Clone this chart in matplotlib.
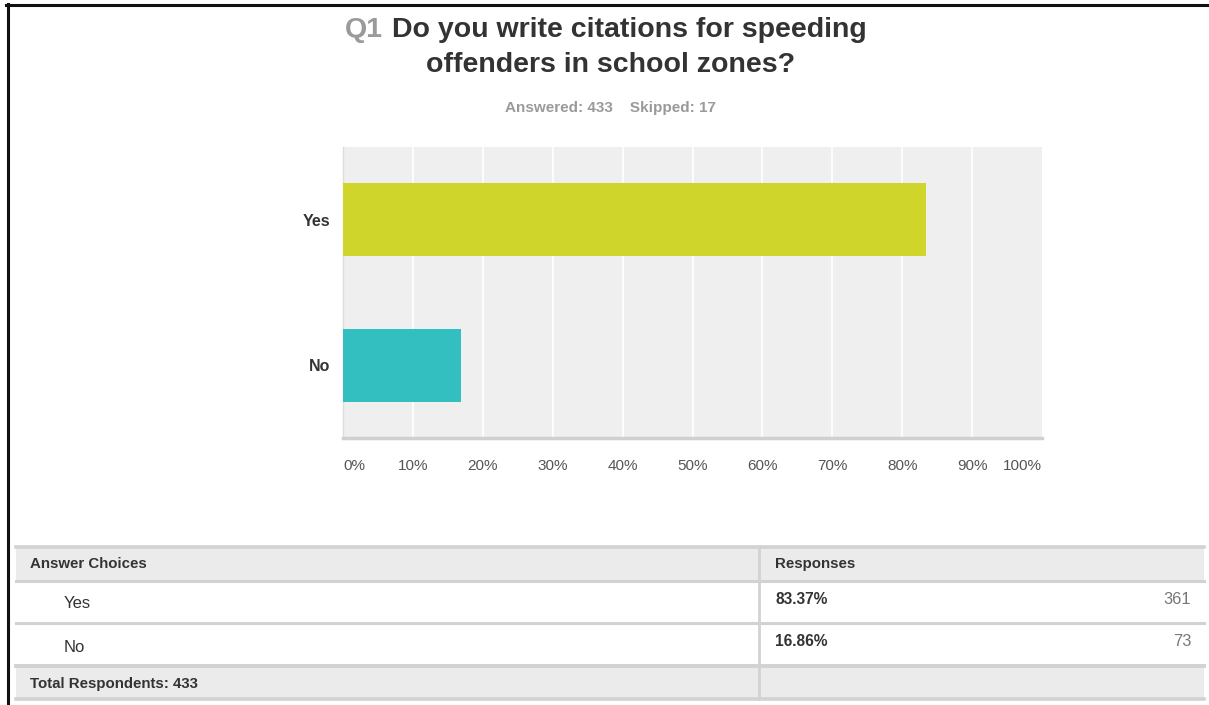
import matplotlib
matplotlib.use("Agg")
import matplotlib.pyplot as plt
from matplotlib.patches import Rectangle
from matplotlib.lines import Line2D
from matplotlib.transforms import blended_transform_factory

plt.rcParams['font.family'] = ['Liberation Sans', 'DejaVu Sans']

# Survey data
question_no = "Q1"
question_lines = ["Do you write citations for speeding", "offenders in school zones?"]
answered = 433
skipped = 17
choices = ["Yes", "No"]
percents = [83.37, 16.86]
counts = [361, 73]
bar_colors = ["#cfd52a", "#33bec0"]
tick_values = [0, 10, 20, 30, 40, 50, 60, 70, 80, 90, 100]
tick_labels = ["0%", "10%", "20%", "30%", "40%", "50%", "60%", "70%", "80%", "90%", "100%"]

W, H = 1209, 705
fig = plt.figure(figsize=(W / 100, H / 100), dpi=100)
fig.patch.set_facecolor("white")


def fx(px):
    return px / W


def fy(py):
    return 1 - py / H


# Page frame
fig.add_artist(Line2D([fx(6), fx(1209)], [fy(4.5), fy(4.5)], color="#111111", lw=2.2))
fig.add_artist(Line2D([fx(7.5), fx(7.5)], [fy(4), fy(705)], color="#111111", lw=2.2))

# Title
title_size = 20.5
fig.text(fx(345), fy(30), question_no, color="#9a9a9a", fontsize=title_size,
         fontweight="bold", ha="left", va="center")
fig.text(fx(392), fy(30), question_lines[0], color="#333333", fontsize=title_size,
         fontweight="bold", ha="left", va="center")
fig.text(fx(611), fy(65), question_lines[1], color="#333333", fontsize=title_size,
         fontweight="bold", ha="center", va="center")
fig.text(fx(610), fy(108), f"Answered: {answered}    Skipped: {skipped}",
         color="#9a9a9a", fontsize=11, fontweight="bold", ha="center", va="center")

# Bar chart
ax = fig.add_axes([fx(343), fy(438), fx(1042) - fx(343), (438 - 147) / H])
ax.set_facecolor("#efefef")
ypos = list(range(len(choices)))[::-1]
ax.barh(ypos, percents, height=0.5, color=bar_colors, zorder=3)
ax.set_xlim(0, 100)
ax.set_ylim(-0.5, len(choices) - 0.5)
for t in tick_values[1:-1]:
    ax.axvline(t, color="white", lw=1.2, zorder=1)
ax.set_yticks(ypos)
ax.set_yticklabels(choices, fontsize=11.5, fontweight="bold", color="#333333")
ax.tick_params(axis="y", length=0, pad=9)
ax.set_xticks([])
for s in ["top", "right"]:
    ax.spines[s].set_visible(False)
ax.spines["left"].set_color("#dddddd")
ax.spines["left"].set_linewidth(1)
ax.spines["bottom"].set_color("#d0d0d0")
ax.spines["bottom"].set_linewidth(2.5)

# Percentage labels under the axis; the end labels stay inside the plot width
label_tf = blended_transform_factory(ax.transData, fig.transFigure)
for v, lab in zip(tick_values, tick_labels):
    ha = "center"
    if v == tick_values[0]:
        ha = "left"
    elif v == tick_values[-1]:
        ha = "right"
    ax.text(v, fy(466), lab, transform=label_tf, ha=ha, va="center",
            fontsize=11, color="#555555", clip_on=False)

# Results table
tx0, tx1, tsplit = 16, 1204, 759
rows = [(546, 581), (581, 623), (623, 665), (665, 699)]
fills = ["#ebebeb", "white", "white", "#ebebeb"]
for (r0, r1), fc in zip(rows, fills):
    fig.add_artist(Rectangle((fx(tx0), fy(r1)), fx(tx1) - fx(tx0), (r1 - r0) / H,
                             facecolor=fc, edgecolor="none", transform=fig.transFigure))
for yline, lw in [(546.5, 2.6), (581, 2.2), (623, 2.2), (665.5, 2.8), (698.5, 2.6)]:
    fig.add_artist(Line2D([fx(tx0), fx(tx1)], [fy(yline), fy(yline)], color="#d2d2d2", lw=lw))
fig.add_artist(Line2D([fx(tsplit), fx(tsplit)], [fy(546), fy(699)], color="#d2d2d2", lw=2.0))

fig.text(fx(30), fy(564), "Answer Choices", fontsize=10.8, fontweight="bold",
         color="#333333", ha="left", va="center")
fig.text(fx(775), fy(564), "Responses", fontsize=10.8, fontweight="bold",
         color="#333333", ha="left", va="center")
row_y = [(604, 600), (647, 642)]
for name, pct, cnt, (ny, py) in zip(choices, percents, counts, row_y):
    fig.text(fx(64), fy(ny), name, fontsize=12, color="#333333", ha="left", va="center")
    fig.text(fx(775), fy(py), f"{pct:.2f}%", fontsize=11.2, fontweight="bold",
             color="#333333", ha="left", va="center")
    fig.text(fx(1191), fy(py - 1), f"{cnt}", fontsize=11.8, color="#777777",
             ha="right", va="center")
fig.text(fx(30), fy(684), f"Total Respondents: {answered}", fontsize=10.8,
         fontweight="bold", color="#333333", ha="left", va="center")

fig.savefig("out.png", dpi=100)
